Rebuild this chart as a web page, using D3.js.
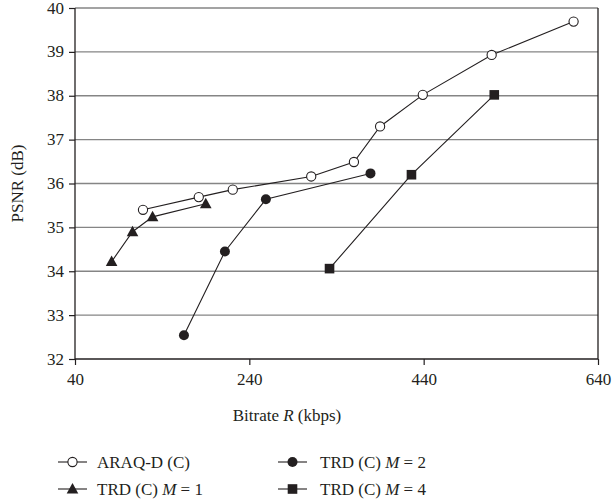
<!DOCTYPE html>
<html>
<head>
<meta charset="utf-8">
<script src="https://cdn.jsdelivr.net/npm/d3@7"></script>
<style>
  body { margin: 0; background: #fff; }
  text { font-family: "Liberation Serif", "DejaVu Serif", serif; fill: #231f20; }
</style>
</head>
<body>
<div class="chart"></div>
<script>
// Data
const araqRate = [118, 182, 221, 311, 360, 390, 439, 518, 612];
const araqPsnr = [35.40, 35.69, 35.86, 36.16, 36.49, 37.30, 38.02, 38.93, 39.69];
const m1Rate = [82, 106, 129, 190];
const m1Psnr = [34.22, 34.90, 35.24, 35.54];
const m2Rate = [165, 212, 259, 379];
const m2Psnr = [32.54, 34.45, 35.64, 36.23];
const m4Rate = [332, 426, 521];
const m4Psnr = [34.06, 36.20, 38.02];
const xTicks = [40, 240, 440, 640];
const yTicks = [32, 33, 34, 35, 36, 37, 38, 39, 40];

const series = [
  { name: "ARAQ-D (C)", rate: araqRate, psnr: araqPsnr, mark: "open" },
  { name: "TRD (C) ", m: "1", rate: m1Rate, psnr: m1Psnr, mark: "triangle" },
  { name: "TRD (C) ", m: "2", rate: m2Rate, psnr: m2Psnr, mark: "dot" },
  { name: "TRD (C) ", m: "4", rate: m4Rate, psnr: m4Psnr, mark: "square" }
];

// Setup
const width = 616, height = 501;
const margin = { top: 8, right: 18, bottom: 142, left: 75 };

const svg = d3.select(".chart").append("svg")
  .attr("width", width)
  .attr("height", height);

const x = d3.scaleLinear().domain([40, 640]).range([margin.left, width - margin.right]);
const y = d3.scaleLinear().domain([32, 40]).range([height - margin.bottom, margin.top]);

// Grid
svg.append("g")
  .selectAll("line")
  .data(yTicks.filter(d => d > 32))
  .enter()
  .append("line")
  .attr("x1", x(40))
  .attr("x2", x(640))
  .attr("y1", d => y(d))
  .attr("y2", d => y(d))
  .attr("stroke", "#858585")
  .attr("stroke-width", 1.4);

// Right border
svg.append("line")
  .attr("x1", x(640)).attr("x2", x(640))
  .attr("y1", y(40)).attr("y2", y(32))
  .attr("stroke", "#231f20").attr("stroke-width", 1.3);

// Axes
const xAxis = svg.append("g")
  .attr("transform", `translate(0,${y(32)})`)
  .call(d3.axisBottom(x).tickValues(xTicks).tickSize(6).tickPadding(8));
const yAxis = svg.append("g")
  .attr("transform", `translate(${x(40)},0)`)
  .call(d3.axisLeft(y).tickValues(yTicks).tickSize(6).tickPadding(5));

[xAxis, yAxis].forEach(a => {
  a.select(".domain").attr("stroke", "#231f20").attr("stroke-width", 1.3);
  a.selectAll(".tick line").attr("stroke", "#231f20").attr("stroke-width", 1.2);
  a.selectAll(".tick text").attr("font-size", 17).attr("fill", "#231f20")
    .style("font-family", '"Liberation Serif", serif');
});
xAxis.select(".domain").attr("d", `M${x(40)},0H${x(640)}`);
yAxis.select(".domain").attr("d", `M0,${y(40)}V${y(32)}`);
yAxis.selectAll(".tick text").attr("dy", "0.3em");

// Axis titles
const xt = svg.append("text")
  .attr("x", 287).attr("y", 421)
  .attr("text-anchor", "middle")
  .attr("font-size", 17);
xt.append("tspan").text("Bitrate ");
xt.append("tspan").attr("font-style", "italic").text("R");
xt.append("tspan").text(" (kbps)");

svg.append("text")
  .attr("transform", `translate(23,${(y(32) + y(40)) / 2}) rotate(-90)`)
  .attr("text-anchor", "middle")
  .attr("font-size", 17)
  .text("PSNR (dB)");

// Markers
const drawMark = (g, type, cx, cy) => {
  if (type === "open") {
    g.append("circle").attr("cx", cx).attr("cy", cy).attr("r", 4.6)
      .attr("fill", "#fff").attr("stroke", "#231f20").attr("stroke-width", 1.1);
  } else if (type === "dot") {
    g.append("circle").attr("cx", cx).attr("cy", cy).attr("r", 5)
      .attr("fill", "#231f20");
  } else if (type === "square") {
    g.append("rect").attr("x", cx - 4.8).attr("y", cy - 4.8)
      .attr("width", 9.6).attr("height", 9.6).attr("fill", "#231f20");
  } else {
    g.append("path")
      .attr("d", `M${cx},${cy - 6}L${cx + 5.8},${cy + 4.5}L${cx - 5.8},${cy + 4.5}Z`)
      .attr("fill", "#231f20");
  }
};

const line = d3.line().x(d => x(d[0])).y(d => y(d[1]));

series.forEach(s => {
  const pts = s.rate.map((r, i) => [r, s.psnr[i]]);
  const g = svg.append("g");
  g.append("path")
    .attr("d", line(pts))
    .attr("fill", "none")
    .attr("stroke", "#231f20")
    .attr("stroke-width", 1.1);
  pts.forEach(p => drawMark(g, s.mark, x(p[0]), y(p[1])));
});

// Legend
const legendPos = [[58, 462, 97], [58, 489, 97], [278, 462, 320], [278, 489, 320]];
series.forEach((s, i) => {
  const [lx, ly, tx] = legendPos[i];
  const g = svg.append("g").attr("class", "legend");
  g.append("line")
    .attr("x1", lx).attr("x2", lx + 29)
    .attr("y1", ly).attr("y2", ly)
    .attr("stroke", "#231f20").attr("stroke-width", 1.1);
  drawMark(g, s.mark, lx + 14.5, ly);
  const t = g.append("text")
    .attr("x", tx).attr("y", ly + 6)
    .attr("font-size", 17);
  t.append("tspan").text(s.name);
  if (s.m) {
    t.append("tspan").attr("font-style", "italic").text("M");
    t.append("tspan").text(" = " + s.m);
  }
});
</script>
</body>
</html>
